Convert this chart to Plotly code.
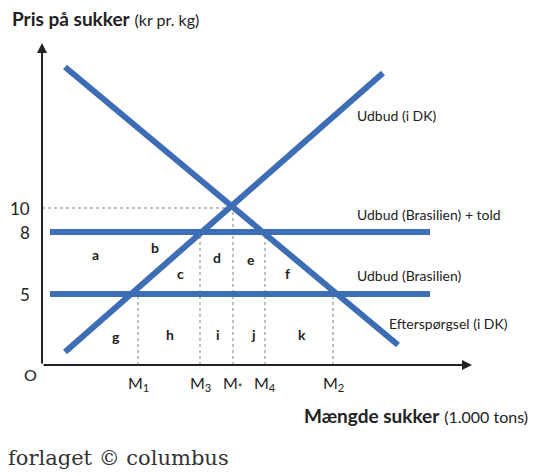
import plotly.graph_objects as go

# abstract diagram coordinates (x: quantity position, y: price position)
price_labels = ["10", "8", "5"]
price_pos = [157, 133, 71]
qty_labels = ["M<sub>1</sub>", "M<sub>3</sub>", "M<sub>*</sub>", "M<sub>4</sub>", "M<sub>2</sub>"]
qty_pos = [96, 158, 191, 223, 291]
qty_top = [71, 133, 157, 133, 71]
demand_x = [23, 356]; demand_y = [298, 20]
supply_x = [23, 341]; supply_y = [13, 292]
world_x = [8, 388]
area_letters = ["a", "b", "c", "d", "e", "f", "g", "h", "i", "j", "k"]
area_x = [53, 113, 138, 175, 209, 245, 74, 128, 176, 211, 260]
area_y = [111, 118, 92, 107, 105, 92, 29, 31, 31, 31, 31]
line_labels = ["Udbud (i DK)", "Udbud (Brasilien) + told", "Udbud (Brasilien)", "Efterspørgsel (i DK)"]
line_lab_x = [313, 313, 313, 345]
line_lab_y = [250, 150, 90, 42]

BLUE = "#3d6db4"
GREY = "#aaaaaa"
FONT = "Lato"
PW, PH = 516, 357
fig = go.Figure()
def line(x, y, **kw):
    fig.add_trace(go.Scatter(x=x, y=y, mode="lines", hoverinfo="skip", **kw))

for xp, top in zip(qty_pos, qty_top):
    line([xp, xp], [0, top], line=dict(color=GREY, width=1.5, dash="dot"))
line([0, qty_pos[2]], [price_pos[0], price_pos[0]], line=dict(color=GREY, width=1.5, dash="dot"))
for yv in price_pos[1:]:
    line(world_x, [yv, yv], line=dict(color=BLUE, width=6))
line(demand_x, demand_y, line=dict(color=BLUE, width=6))
line(supply_x, supply_y, line=dict(color=BLUE, width=6))

def px(xp, yp):
    return xp - 42, 365 - yp

ann = []
def txt(x, y, t, size=14, xanchor="center", yanchor="middle", family=FONT, color="#222"):
    ann.append(dict(x=x / PW, y=y / PH, xref="paper", yref="paper", text=t, showarrow=False,
                    xanchor=xanchor, yanchor=yanchor,
                    font=dict(size=size, family=family, color=color)))

ann.append(dict(x=0, y=322, ax=0, ay=0, axref="x", ayref="y", xref="x", yref="y", text="",
                showarrow=True, arrowhead=2, arrowsize=1, arrowwidth=2, arrowcolor="#222"))
ann.append(dict(x=430, y=0, ax=0, ay=0, axref="x", ayref="y", xref="x", yref="y", text="",
                showarrow=True, arrowhead=2, arrowsize=1, arrowwidth=2, arrowcolor="#222"))
for t, yp in zip(price_labels, price_pos):
    txt(-10, yp, t, 17, xanchor="right")
for t, xp in zip(qty_labels, qty_pos):
    txt(xp, -6, t, 16, yanchor="top")
txt(-12, -10, "O", 16)
for t, xp, yp in zip(area_letters, area_x, area_y):
    txt(xp, yp, "<b>"+t+"</b>", 14)
for t, xp, yp in zip(line_labels, line_lab_x, line_lab_y):
    txt(xp, yp, t, 14, xanchor="left")
x, y = px(10, 18)
txt(x, y, "<b>Pris på sukker</b> <span style='font-size:16px'>(kr pr. kg)</span>", 19, xanchor="left")
x, y = px(530, 415)
txt(x, y, "<b>Mængde sukker</b> <span style='font-size:16px'>(1.000 tons)</span>", 19, xanchor="right")
x, y = px(6, 458)
txt(x, y, "forlaget © columbus", 21, xanchor="left", family="DejaVu Serif", color="#333")

fig.update_layout(annotations=ann)
fig.update_layout(width=550, height=476, margin=dict(l=34, r=0, t=0, b=119),
                  plot_bgcolor="white", paper_bgcolor="white", showlegend=False,
                  xaxis=dict(range=[0, PW], visible=False, fixedrange=True),
                  yaxis=dict(range=[0, PH], visible=False, fixedrange=True))
fig.write_html("out.html")
